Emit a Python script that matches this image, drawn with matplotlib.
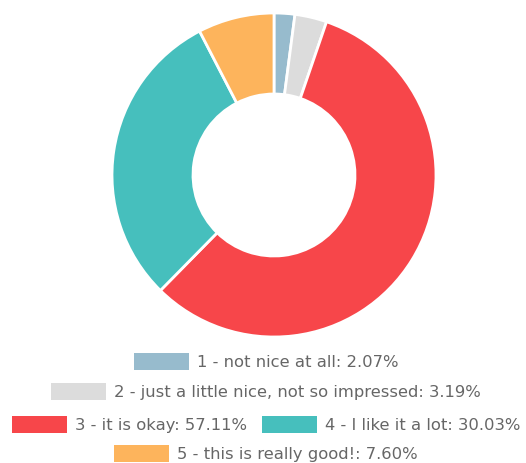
import matplotlib
matplotlib.use("Agg")
import matplotlib.pyplot as plt
from matplotlib.patches import Rectangle

labels = [
    "1 - not nice at all",
    "2 - just a little nice, not so impressed",
    "3 - it is okay",
    "4 - I like it a lot",
    "5 - this is really good!",
]
shares = [2.07, 3.19, 57.11, 30.03, 7.60]
colors = ["#97BBCD", "#DCDCDC", "#F7464A", "#46BFBD", "#FDB45C"]
legend_rows = [[0], [1], [2, 3], [4]]

W, H = 526, 463
fig = plt.figure(figsize=(W / 100, H / 100), dpi=100)

# donut: centre (274, 175) px, radius 162 px
cx, cy, r = 274, 175, 162
ax = fig.add_axes([(cx - r) / W, (H - cy - r) / H, 2 * r / W, 2 * r / H])
ax.pie(shares, colors=colors, startangle=90, counterclock=False,
       wedgeprops=dict(width=0.5, edgecolor="white", linewidth=2))
ax.set_xlim(-1, 1)
ax.set_ylim(-1, 1)
ax.set_aspect("equal")
ax.axis("off")

# hand-built legend, rows centred
fig.canvas.draw()
renderer = fig.canvas.get_renderer()
box_w, box_h, gap, item_gap = 55, 17, 8, 15
row_y = [361, 391, 424, 453]
fs = 11.8
for row, y in zip(legend_rows, row_y):
    items = []
    total = 0
    for i in row:
        txt = f"{labels[i]}: {shares[i]:.2f}%"
        t = fig.text(0, 0, txt, fontsize=fs, color="#666666")
        tw = t.get_window_extent(renderer).width
        t.remove()
        items.append((i, txt, tw))
        total += box_w + gap + tw
    total += item_gap * (len(items) - 1)
    x = (W - total) / 2 + 3
    for i, txt, tw in items:
        fig.patches.append(Rectangle((x / W, (H - y - box_h / 2) / H), box_w / W, box_h / H,
                                     transform=fig.transFigure, facecolor=colors[i],
                                     edgecolor="none"))
        x += box_w + gap
        fig.text(x / W, (H - y) / H, txt, fontsize=fs, color="#666666", va="center_baseline")
        x += tw + item_gap

fig.savefig("out.png", dpi=100)
